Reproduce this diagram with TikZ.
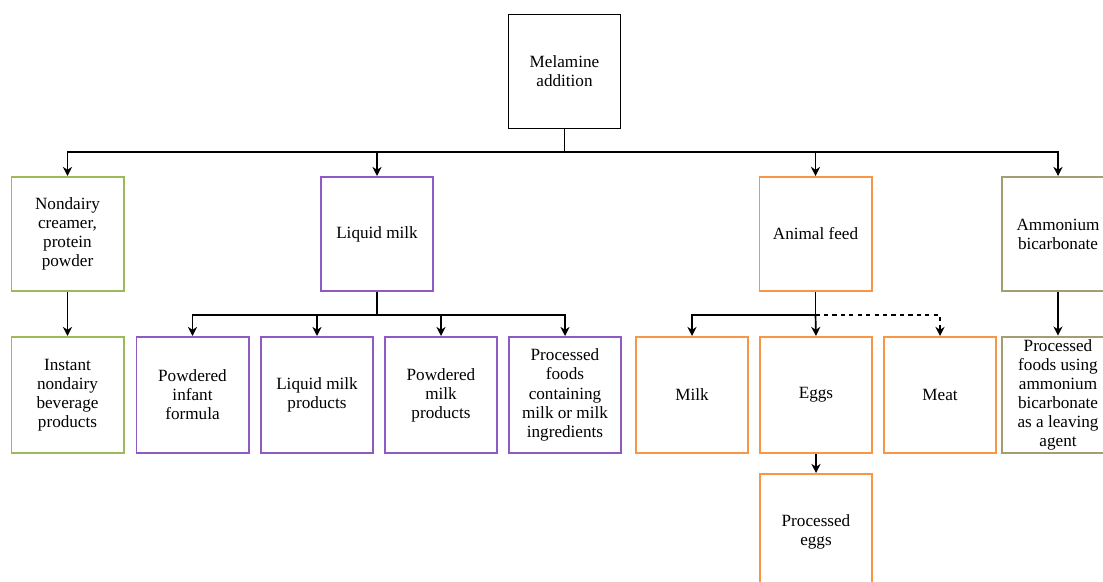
\documentclass[tikz,border=0pt]{standalone}
\usepackage{fontspec}
\setmainfont{Liberation Serif}
\usetikzlibrary{arrows.meta}
\definecolor{boxgreen}{HTML}{9BBB59}
\definecolor{boxpurple}{HTML}{8E5AC4}
\definecolor{boxorange}{HTML}{F79646}
\definecolor{boxolive}{HTML}{A39E72}

\begin{document}
\begin{tikzpicture}[x=0.025cm,y=-0.025cm,>={Stealth[length=6.5pt,width=6.5pt]},
  font=\fontsize{12.2}{13.6}\selectfont,
  box/.style={draw,line width=1.4pt,minimum width=2.8cm,minimum height=2.85cm,align=center,inner sep=2pt},
  lowbox/.style={box,minimum height=2.9cm},
  wire/.style={line width=1.2pt},
  link/.style={->,line width=1.2pt}]
\useasboundingbox (0,0) rectangle (1103,582);
\clip (0,0) rectangle (1103,582);
\node[box,draw=black,line width=1.1pt] (melamine) at (564.5,71.5) {Melamine\\addition};
% first row
\node[box,draw=boxgreen] (nondairy) at (67.5,234) {Nondairy\\creamer,\\protein\\powder};
\node[box,draw=boxpurple] (liquid) at (377,234) {Liquid milk};
\node[box,draw=boxorange] (feed) at (815.5,234) {Animal feed};
\node[box,draw=boxolive] (ammonium) at (1058,234) {Ammonium\\bicarbonate};
% second row
\node[lowbox,draw=boxgreen] (instant) at (67.5,395) {Instant\\nondairy\\beverage\\products};
\node[lowbox,draw=boxpurple] (infant) at (192.5,395) {Powdered\\infant\\formula};
\node[lowbox,draw=boxpurple] (liqprod) at (317,395) {Liquid milk\\products};
\node[lowbox,draw=boxpurple] (powprod) at (441,395) {Powdered\\milk\\products};
\node[lowbox,draw=boxpurple] (procmilk) at (565,395) {Processed\\foods\\containing\\milk or milk\\ingredients};
\node[lowbox,draw=boxorange] (milk) at (692,395) {Milk};
\node[lowbox,draw=boxorange] (eggs) at (816,395) {Eggs};
\node[lowbox,draw=boxorange] (meat) at (940,395) {Meat};
\node[lowbox,draw=boxolive] (procammon) at (1058,395) {Processed\\foods using\\ammonium\\bicarbonate\\as a leaving\\agent};
% third row
\node[lowbox,draw=boxorange] (proceggs) at (816,532) {Processed\\eggs};
% connectors
\draw[wire] (melamine.south) -- ++(0,23) coordinate (topbus);
\draw[link] (topbus) -| (nondairy.north);
\draw[link] (topbus) -| (liquid.north);
\draw[link] (topbus) -| (feed.north);
\draw[link] (topbus) -| (ammonium.north);
\draw[link] (nondairy.south) -- (instant.north);
\draw[wire] (liquid.south) -- ++(0,23) coordinate (milkbus);
\draw[link] (milkbus) -| (infant.north);
\draw[link] (milkbus) -| (liqprod.north);
\draw[link] (milkbus) -| (powprod.north);
\draw[link] (milkbus) -| (procmilk.north);
\draw[wire] (feed.south) -- ++(0,23) coordinate (feedbus);
\draw[link] (feedbus) -| (milk.north);
\draw[link] (feedbus) -- (eggs.north);
\draw[link,dashed] (feedbus) -| (meat.north);
\draw[link] (eggs.south) -- (proceggs.north);
\draw[link] (ammonium.south) -- (procammon.north);
\end{tikzpicture}
\end{document}
